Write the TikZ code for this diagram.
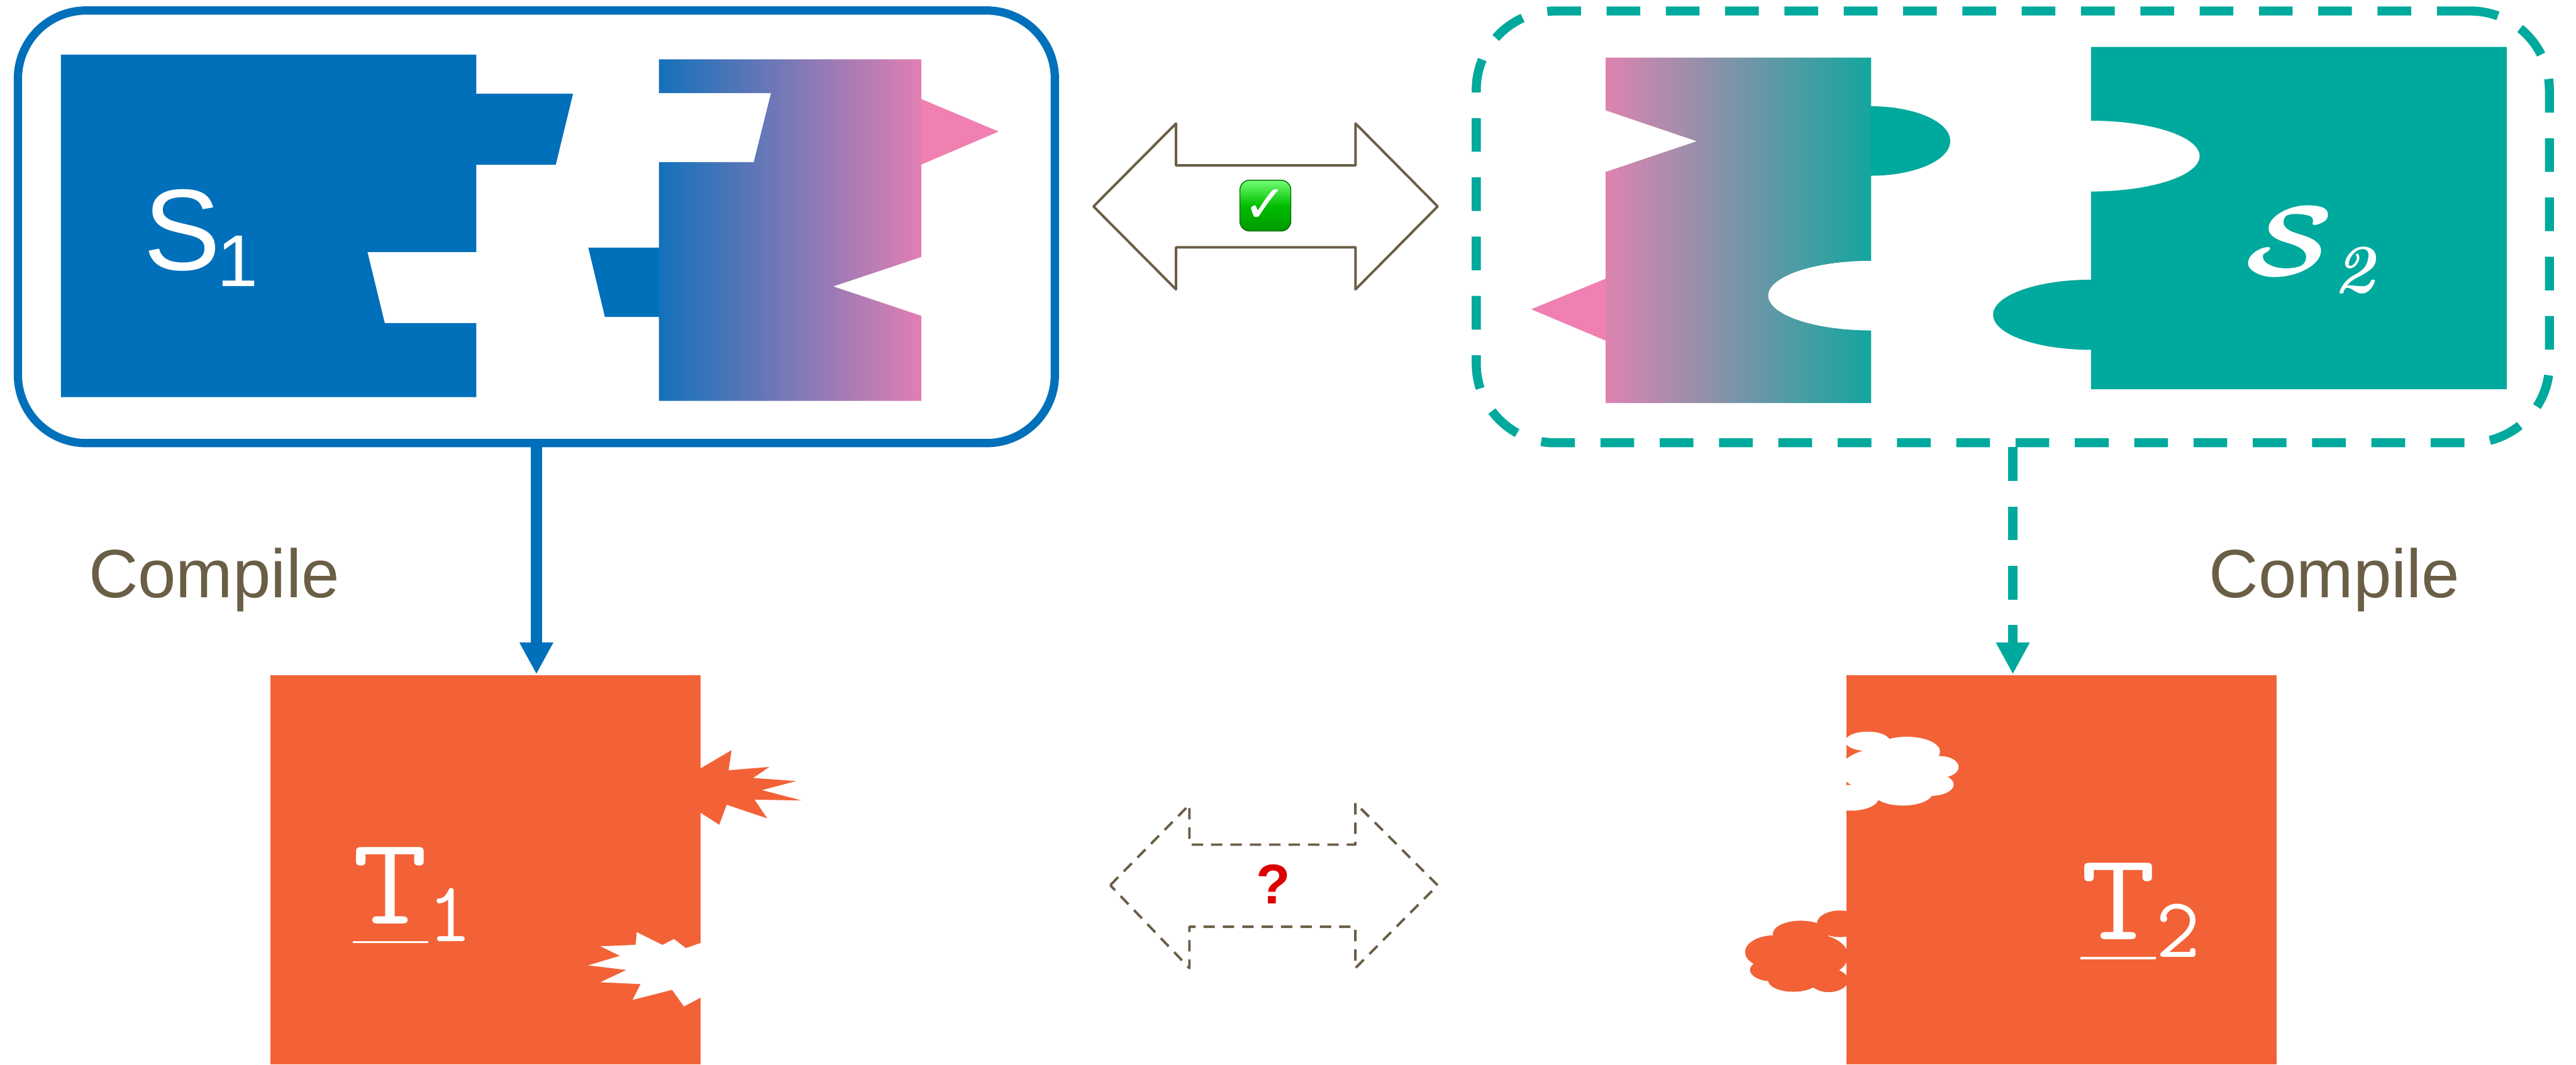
\documentclass[tikz,border=0pt]{standalone}
\usepackage{fontspec}
\usepackage{graphicx}
\usetikzlibrary{arrows.meta}
\newfontfamily\labelsans{Liberation Sans}
\newfontfamily\symbolfont{DejaVu Sans}
\definecolor{sblue}{RGB}{0,112,187}
\definecolor{spink}{RGB}{240,128,178}
\definecolor{steal}{RGB}{0,169,157}
\definecolor{sorange}{RGB}{242,98,54}
\definecolor{sbrown}{RGB}{106,94,70}
\definecolor{qred}{RGB}{221,0,0}
% underlined typewriter T, rule a little below the baseline
\newcommand\ulT{\setbox0=\hbox{\scalebox{1.17}[1]{T}}\rlap{\rule[-3.4pt]{\wd0}{0.4pt}}\box0}
\begin{document}
\begin{tikzpicture}[x=0.1mm, y=-0.1mm,
  srcbox/.style={draw=sblue, line width=0.505mm, rounded corners=4.15mm,
    minimum width=63.12mm, minimum height=26.34mm, inner sep=0},
  altbox/.style={draw=steal, line width=0.55mm, rounded corners=4.8mm,
    dash pattern=on 2.05mm off 1.56mm,
    minimum width=65.32mm, minimum height=26.29mm, inner sep=0},
  tgtbox/.style={fill=sorange, minimum width=26.2mm, minimum height=23.685mm, inner sep=0},
  compilelabel/.style={anchor=base west, inner sep=0, text=sbrown,
    font=\labelsans\fontsize{11.84}{14}\selectfont},
  whitelabel/.style={anchor=base west, inner sep=0, text=white},
  blueflow/.style={draw=sblue, line width=0.7mm, -{Triangle[length=1.94mm,width=1.92mm]}},
  tealflow/.style={draw=steal, line width=0.6mm, dash pattern=on 2.05mm off 1.56mm,
    -{Triangle[length=1.94mm,width=1.92mm]}},
  equivarrow/.style={draw=sbrown, fill=white, line width=0.15mm, line join=round},
  openarrow/.style={equivarrow, dash pattern=on 0.69mm off 0.49mm},
  chk/.style={rounded corners=0.6mm, minimum width=3.1mm, minimum height=3.1mm, inner sep=0,
    top color=green!55!white, bottom color=green!60!black, middle color={rgb,255:red,0;green,190;blue,0},
    draw=green!40!black, line width=0.15pt, text=white,
    font=\symbolfont\fontsize{9}{9}\selectfont}
]
\useasboundingbox (0,0) rectangle (1568,648.15);

% ---------- source S1: two puzzle pieces ----------
\fill[sblue] (37.1,33.3) -- (289.9,33.3) -- (289.9,57.1) -- (348.8,57.1) -- (338.3,100.3)
  -- (289.9,100.3) -- (289.9,153.5) -- (223.7,153.5) -- (234.2,196.7) -- (289.9,196.7)
  -- (289.9,241.8) -- (37.1,241.8) -- cycle;
\begin{scope}
  \clip (401.1,36.1) -- (560.8,36.1) -- (560.8,60.3) -- (607.9,80.1) -- (560.8,100.2)
    -- (560.8,156.5) -- (507.2,174.4) -- (560.8,192.3) -- (560.8,244.1) -- (401.1,244.1)
    -- (401.1,193.0) -- (368.2,193.0) -- (358.1,150.8) -- (401.1,150.8) -- (401.1,98.7)
    -- (458.8,98.7) -- (469.3,56.7) -- (401.1,56.7) -- cycle;
  \fill[sblue] (350,30) rectangle (401.1,250);
  \shade[left color=sblue!92!spink, right color=spink!94!sblue] (401.1,30) rectangle (560.8,250);
  \fill[spink] (560.8,30) rectangle (615,250);
\end{scope}
\node[whitelabel] (s1lbl) at (86.7,164.5)
  {{\labelsans\fontsize{20}{24}\selectfont S}\kern-0.6pt\raisebox{-2.85pt}{\labelsans\fontsize{12.7}{15}\selectfont 1}};
\node[srcbox] (S1box) at (326.5,138.1) {};

% ---------- source S2: two puzzle pieces ----------
\begin{scope}
  \clip (977.6,35.1) -- (1138.9,35.1) -- (1138.9,64.7)
    .. controls (1165.5,64.7) and (1187.1,74.15) .. (1187.1,85.85)
    .. controls (1187.1,97.55) and (1165.5,107.0) .. (1138.9,107.0)
    -- (1138.9,158.8)
    .. controls (1104.3,158.8) and (1076.3,168.3) .. (1076.3,180.0)
    .. controls (1076.3,191.7) and (1104.3,201.2) .. (1138.9,201.2)
    -- (1138.9,245.4) -- (977.6,245.4) -- (977.6,207.5) -- (932.0,188.3) -- (977.6,169.6)
    -- (977.6,104.6) -- (1032.8,86.0) -- (977.6,67.3) -- cycle;
  \fill[spink] (925,30) rectangle (977.6,250);
  \shade[left color=spink!92!steal, right color=steal!92!spink] (977.6,30) rectangle (1138.9,250);
  \fill[steal] (1138.9,30) rectangle (1195,250);
\end{scope}
\fill[steal] (1272.8,28.6) -- (1525.8,28.6) -- (1525.8,237.0) -- (1272.8,237.0) -- (1272.8,213.0)
  .. controls (1239.9,213.0) and (1213.2,203.45) .. (1213.2,191.65)
  .. controls (1213.2,179.85) and (1239.9,170.3) .. (1272.8,170.3)
  -- (1272.8,116.6)
  .. controls (1309.3,116.6) and (1338.9,106.95) .. (1338.9,95.05)
  .. controls (1338.9,83.15) and (1309.3,73.5) .. (1272.8,73.5) -- cycle;
\node[whitelabel] (s2lbl) at (1366,168)
  {\fontsize{17.4}{20}\selectfont\scalebox{1.15}[1]{\boldmath$\mathcal{S}$}\raisebox{-2.85pt}{\fontsize{12}{14}\selectfont\bfseries\itshape 2}};
\node[altbox] (S2box) at (1225.2,138.15) {};

% ---------- equivalence between the sources ----------
\draw[equivarrow] (665.6,125.7) -- (715.8,75.2) -- (715.8,100.7) -- (825.1,100.7) -- (825.1,75.2)
  -- (875.1,125.7) -- (825.1,176.2) -- (825.1,150.6) -- (715.8,150.6) -- (715.8,176.2) -- cycle;
\node[chk] (ok) at (770.2,125.2) {✓};

% ---------- compiled targets ----------
\node[tgtbox] (T1) at (295.5,529.72) {};
\fill[sorange] (415,467.8) -- (426.5,467.8) -- (445.3,456.8) -- (443.5,469.0) -- (468.3,467.0)
  -- (458.4,473.7) -- (484.6,475.6) -- (463.8,481.1) -- (488.0,487.4) -- (459.3,486.9)
  -- (467.0,498.3) -- (442.3,490.0) -- (437.8,502.2) -- (426.5,494.9) -- (415,494.9) -- cycle;
\fill[white] (440,574.2) -- (426.5,574.2) -- (417.5,577.3) -- (410.2,571.8) -- (403.2,575.4)
  -- (387.6,567.6) -- (386.9,575.3) -- (365.5,576.2) -- (377.4,582.0) -- (358.0,587.8)
  -- (381.3,590.6) -- (365.5,598.1) -- (389.9,599.2) -- (385.1,608.8) -- (409.1,602.7)
  -- (416.3,612.8) -- (426.5,607.4) -- (440,607.4) -- cycle;
\node[whitelabel] (t1lbl) at (214,562.4)
  {\ttfamily\fontsize{21.7}{24}\selectfont\ulT\raisebox{-3.1pt}{\fontsize{14.8}{16}\selectfont 1}};

\node[tgtbox] (T2) at (1254.75,529.72) {};
% cloud bitten out of the upper left edge
\fill[white] (1136.8,451.4) ellipse [x radius=13.6, y radius=5.9]
  (1160.6,457.7) ellipse [x radius=20.3, y radius=9.1]
  (1180.9,467.0) ellipse [x radius=11.3, y radius=6.6]
  (1175.2,477.7) ellipse [x radius=14.0, y radius=6.9]
  (1158.3,482.7) ellipse [x radius=18.1, y radius=7.8]
  (1126.6,485.8) ellipse [x radius=17.0, y radius=7.8]
  (1150,469) ellipse [x radius=30, y radius=14];
% cloud bulging out of the lower left edge
\fill[sorange] (1119.9,562.5) ellipse [x radius=14.0, y radius=8.1]
  (1096.1,568.7) ellipse [x radius=17.0, y radius=8.1]
  (1080.3,579.7) ellipse [x radius=18.1, y radius=10.2]
  (1079.2,590.6) ellipse [x radius=14.0, y radius=7.0]
  (1091.6,596.9) ellipse [x radius=15.4, y radius=7.0]
  (1113.1,596.9) ellipse [x radius=11.8, y radius=7.2]
  (1100,582) ellipse [x radius=25, y radius=14];
\node[whitelabel] (t2lbl) at (1265.8,572.1)
  {\ttfamily\fontsize{21.7}{24}\selectfont\ulT\raisebox{-3.1pt}{\fontsize{14.8}{16}\selectfont 2}};

% ---------- open question between the targets ----------
\draw[openarrow] (675.8,539) -- (724,490) -- (724,514.3) -- (825,514.3) -- (825,489)
  -- (875.1,539) -- (825,589.5) -- (825,564.3) -- (724,564.3) -- (724,589.5) -- cycle;
\node[inner sep=0, text=qred, font=\labelsans\bfseries\fontsize{9.7}{10}\selectfont] (unk) at (775,538.3) {?};

% ---------- compilation steps ----------
\draw[blueflow] (S1box.south) -- (S1box.south |- T1.north);
\draw[tealflow] (S2box.south) -- (S2box.south |- T2.north);
\node[compilelabel] (c1) at (53.3,363.9) {Compile};
\node[compilelabel] (c2) at (1344,363.9) {Compile};
\end{tikzpicture}
\end{document}
